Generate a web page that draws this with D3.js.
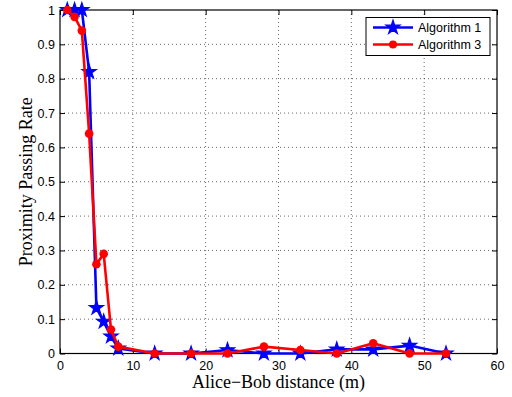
<!DOCTYPE html>
<html lang="en">

<head>
    <meta charset="UTF-8">
    <title>Proximity Passing Rate</title>
    <script src="https://d3js.org/d3.v7.min.js"></script>
    <style>
        body { margin: 0; background: #fff; }
        .tick text { font-family: "Liberation Sans", Arial, sans-serif; font-size: 12.5px; fill: #000; }
    </style>
</head>

<body>
    <svg width="512" height="397" class="chart"></svg>
</body>

<script>
    // data
    var distance = [1, 2, 3, 4, 5, 6, 7, 8, 13, 18, 23, 28, 33, 38, 43, 48, 53];
    var algo1 = [1.0, 1.0, 1.0, 0.82, 0.133, 0.093, 0.05, 0.015, 0.0, 0.0, 0.01, 0.0, 0.0, 0.012, 0.012, 0.023, 0.0];
    var algo3 = [1.0, 0.98, 0.94, 0.64, 0.26, 0.29, 0.07, 0.02, 0.0, 0.0, 0.0, 0.02, 0.01, 0.0, 0.03, 0.0, 0.0];
    var xTicks = [0, 10, 20, 30, 40, 50, 60];
    var yTicks = [0, 0.1, 0.2, 0.3, 0.4, 0.5, 0.6, 0.7, 0.8, 0.9, 1];
    var seriesNames = ['Algorithm 1', 'Algorithm 3'];

    // plot box in pixels (window.top is reserved, so use a margin object)
    var margin = { left: 60, top: 10, right: 15, bottom: 43.5 };
    var w = 512 - margin.left - margin.right, h = 397 - margin.top - margin.bottom;

    var x = d3.scaleLinear().domain([0, 60]).range([0, w]);
    var y = d3.scaleLinear().domain([0, 1]).range([h, 0]);

    var svg = d3.select('.chart');
    var g = svg.append('g').attr('transform', 'translate(' + margin.left + ',' + margin.top + ')');

    // grid
    g.append('g').selectAll('line')
        .data(xTicks.slice(1, -1))
        .enter().append('line')
        .attr('x1', d => x(d)).attr('x2', d => x(d))
        .attr('y1', 0).attr('y2', h)
        .attr('stroke', '#000').attr('stroke-width', 0.6)
        .attr('stroke-dasharray', '1,3');
    g.append('g').selectAll('line')
        .data(yTicks.slice(1, -1))
        .enter().append('line')
        .attr('x1', 0).attr('x2', w)
        .attr('y1', d => y(d)).attr('y2', d => y(d))
        .attr('stroke', '#000').attr('stroke-width', 0.6)
        .attr('stroke-dasharray', '1,3');

    // axes, ticks inside like matlab
    var xAxis = d3.axisBottom(x).tickValues(xTicks).tickSize(-5).tickPadding(8).tickFormat(d3.format('d'));
    var yAxis = d3.axisLeft(y).tickValues(yTicks).tickSize(-5).tickPadding(5).tickFormat(d => d === 0 || d === 1 ? d : d3.format('.1f')(d));

    var gx = g.append('g').attr('transform', 'translate(0,' + h + ')').call(xAxis);
    var gy = g.append('g').call(yAxis);
    g.append('g').call(d3.axisTop(x).tickValues(xTicks).tickSize(-5).tickFormat(''));
    g.append('g').attr('transform', 'translate(' + w + ',0)').call(d3.axisRight(y).tickValues(yTicks).tickSize(-5).tickFormat(''));
    g.selectAll('.domain').remove();
    g.selectAll('.tick line').attr('stroke', '#000');

    g.append('rect')
        .attr('width', w).attr('height', h)
        .attr('fill', 'none').attr('stroke', '#000').attr('stroke-width', 1.2);

    // series
    var line = d3.line().x(d => x(d[0])).y(d => y(d[1]));
    var star = d3.symbol().type(d3.symbolStar).size(62);

    function drawSeries(vals, color, marker) {
        var pts = distance.map((d, i) => [d, vals[i]]);
        g.append('path').datum(pts)
            .attr('d', line)
            .attr('fill', 'none').attr('stroke', color).attr('stroke-width', 2.6)
            .attr('stroke-linejoin', 'round');
        var m = g.append('g').selectAll('.m').data(pts).enter();
        if (marker === 'star') {
            m.append('path')
                .attr('d', star)
                .attr('transform', d => 'translate(' + x(d[0]) + ',' + y(d[1]) + ')')
                .attr('fill', color).attr('stroke', color).attr('stroke-width', 1.2);
        } else {
            m.append('circle')
                .attr('cx', d => x(d[0])).attr('cy', d => y(d[1]))
                .attr('r', 4.3).attr('fill', color);
        }
    }
    drawSeries(algo1, '#0000ff', 'star');
    drawSeries(algo3, '#ff0000', 'dot');

    // legend
    var lg = svg.append('g').attr('transform', 'translate(366,17.5)');
    lg.append('rect').attr('width', 124).attr('height', 38)
        .attr('fill', '#fff').attr('stroke', '#000').attr('stroke-width', 1);
    seriesNames.forEach(function (name, i) {
        var yy = 10 + i * 17;
        var col = i === 0 ? '#0000ff' : '#ff0000';
        lg.append('line').attr('x1', 7).attr('x2', 47).attr('y1', yy).attr('y2', yy)
            .attr('stroke', col).attr('stroke-width', 2.5);
        if (i === 0) {
            lg.append('path').attr('d', star).attr('transform', 'translate(27,' + yy + ')')
                .attr('fill', col).attr('stroke', col).attr('stroke-width', 1.2);
        } else {
            lg.append('circle').attr('cx', 27).attr('cy', yy).attr('r', 4).attr('fill', col);
        }
        lg.append('text').attr('x', 52).attr('y', yy + 4.5)
            .attr('font-family', 'Liberation Sans, Arial, sans-serif').attr('font-size', 12.5)
            .text(name);
    });

    // axis titles
    svg.append('text')
        .attr('x', margin.left + w / 2).attr('y', 388)
        .attr('text-anchor', 'middle')
        .attr('font-family', 'Liberation Serif, Times New Roman, serif').attr('font-size', 18)
        .text('Alice\u2212Bob distance (m)');
    svg.append('text')
        .attr('transform', 'translate(32,' + (margin.top + h / 2) + ') rotate(-90)')
        .attr('text-anchor', 'middle')
        .attr('font-family', 'Liberation Serif, Times New Roman, serif').attr('font-size', 18)
        .text('Proximity Passing Rate');
</script>

</html>
